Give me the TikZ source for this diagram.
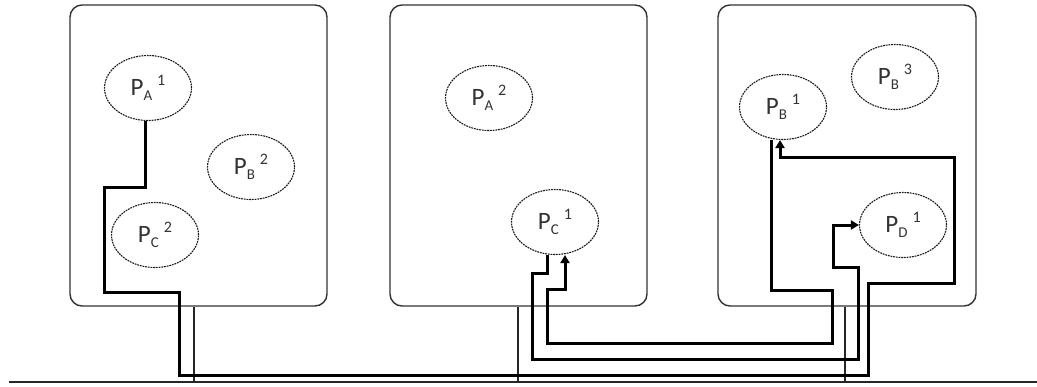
\documentclass[tikz,border=0pt]{standalone}
\usepackage{fontspec}
\setmainfont{Carlito}
\usepackage{tikz}
\usetikzlibrary{shapes.geometric, arrows.meta}

% process label: P, lowered host letter, raised index
\newcommand{\proclabel}[2]{P\raisebox{-5pt}{\fontsize{15pt}{15pt}\selectfont #1}\raisebox{10pt}{\fontsize{16pt}{16pt}\selectfont\hspace{5pt}#2}}

\begin{document}
\begin{tikzpicture}[x=1pt, y=-1pt,
    hostbox/.style={draw=black!80, line width=1.4pt, rounded corners=12pt,
      minimum width=257pt, minimum height=301pt, inner sep=0pt},
    procnode/.style={ellipse, draw=black!90, dash pattern=on 1.8pt off 0.9pt,
      line width=1.1pt, minimum width=87pt, minimum height=65pt, inner sep=0pt,
      font=\fontsize{25pt}{25pt}\selectfont, text=black!80},
    link/.style={draw=black!85, line width=1.3pt},
    wire/.style={draw=black, line width=3pt},
    msg/.style={wire, -{Triangle[length=8pt, width=9pt]}}]

    \useasboundingbox (0,0) rectangle (1037,386);

    % Draw hosts
    \node[hostbox] (h1) at (198.5,155.5) {};
    \node[hostbox] (h2) at (518.5,155.5) {};
    \node[hostbox, minimum width=258pt] (h3) at (847,155.5) {};

    % Draw processes
    \node[procnode] (pa1) at (148,88) {\proclabel{A}{1}};
    \node[procnode] (pb2) at (251,167) {\proclabel{B}{2}};
    \node[procnode] (pc2) at (155,235) {\proclabel{C}{2}};
    \node[procnode] (pa2) at (489,98) {\proclabel{A}{2}};
    \node[procnode] (pc1) at (555,222) {\proclabel{C}{1}};
    \node[procnode] (pb1) at (783,107) {\proclabel{B}{1}};
    \node[procnode] (pb3) at (895,77) {\proclabel{B}{3}};
    \node[procnode] (pd1) at (903,225) {\proclabel{D}{1}};

    % Draw bus and host taps
    \coordinate (busL) at (9,382);
    \coordinate (busR) at (1037,382);
    \draw[link] (busL) -- (busR);
    \foreach \h/\x in {1/194, 2/518, 3/845} {
      \coordinate (t\h) at (\x,382);
      \draw[link] (h\h.south -| t\h) -- (t\h);
    }

    % Draw messages
    \draw[msg] ([xshift=-3pt]pa1.south) |- (104,187) |- (179,292) |- (868,375)
      |- (954,283) |- (780,157) -- ([xshift=-3pt]pb1.south);
    \draw[msg] ([xshift=-8pt]pc1.south) |- (532,273) |- (858,359) |- (833,267)
      |- (pd1.west);
    \draw[msg] ([xshift=-12pt]pb1.south) |- (832,290) |- (547,343) -- (547,289)
      -| ([xshift=10pt]pc1.south);

\end{tikzpicture}
\end{document}
